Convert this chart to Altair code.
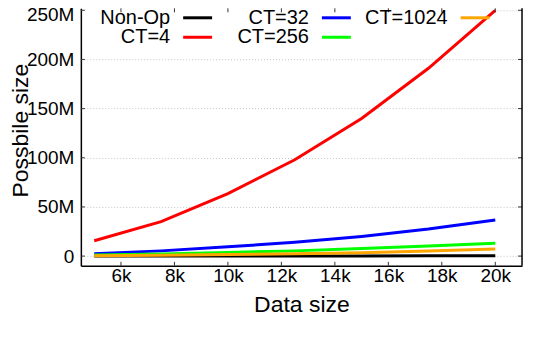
import altair as alt
import pandas as pd

# ---- data ----
data_sizes = [5000, 7500, 10000, 12500, 15000, 17500, 20000]
series_names = ["Non-Op", "CT=4", "CT=32", "CT=256", "CT=1024"]
series_colors = ["#000000", "#ff0000", "#0000ff", "#00ff00", "#ffa500"]
non_op = [0.02, 0.04, 0.07, 0.11, 0.16, 0.22, 0.3]
ct4 = [15.6, 35.0, 63.5, 98.0, 140.0, 191.0, 250.0]
ct32 = [2.5, 5.3, 9.5, 14.0, 20.0, 27.5, 36.7]
ct256 = [1.0, 2.2, 3.7, 5.3, 7.6, 10.2, 13.0]
ct1024 = [0.4, 0.9, 1.5, 2.4, 3.5, 5.1, 7.1]
series_values = [non_op, ct4, ct32, ct256, ct1024]

x_ticks = [6000, 8000, 10000, 12000, 14000, 16000, 18000, 20000]
y_ticks = [0, 50, 100, 150, 200, 250]

FONT = "Liberation Sans"
W, H = 442, 258

rows = []
for name, vals in zip(series_names, series_values):
    for s, v in zip(data_sizes, vals):
        rows.append({"size": s, "value": v, "series": name})
df = pd.DataFrame(rows)

xscale = alt.Scale(domain=[4500, 21000], zero=False, nice=False)
yscale = alt.Scale(domain=[-9.9, 252], zero=False, nice=False)

xaxis = alt.Axis(
    values=x_ticks,
    labelExpr="datum.value / 1000 + 'k'",
    labelFontSize=19, labelFont=FONT, labelColor="black",
    labelBaseline="alphabetic", labelPadding=16,
    ticks=False, tickSize=0, grid=False,
    domain=True, domainColor="black", domainWidth=1.5,
    title="Data size", titleFont=FONT, titleFontSize=23, titleFontWeight="normal",
    titleColor="black", titleY=46, titleBaseline="alphabetic",
)
yaxis = alt.Axis(
    values=y_ticks,
    labelExpr="datum.value == 0 ? '0\u00a0' : datum.value + 'M'",
    labelFontSize=19, labelFont=FONT, labelColor="black", labelPadding=7,
    labelOffset={"condition": {"test": "datum.value == 250", "value": 4}, "value": 0},
    ticks=False, tickSize=0,
    grid=True, gridColor="#c4c4c4", gridDash=[1, 2], gridWidth=1,
    domain=True, domainColor="black", domainWidth=1.5,
    title="Possbile size", titleFont=FONT, titleFontSize=23, titleFontWeight="normal",
    titleColor="black", titleAngle=270, titleX=-53, titleY=122,
    titleBaseline="alphabetic", titleAlign="center",
)

X = alt.X("size:Q", scale=xscale, axis=xaxis, title="Data size")
Y = alt.Y("value:Q", scale=yscale, axis=yaxis, title="Possbile size")

# base layer carrying axes/grid
base = alt.Chart(df).mark_line(opacity=0).encode(x=X, y=Y)

one = pd.DataFrame({"a": [0]})
legend_box = alt.Chart(one).mark_rect(color="white").encode(
    x=alt.value(2), x2=alt.value(417), y=alt.value(1), y2=alt.value(40)
)

layers = [base, legend_box]
for name, color in zip(series_names, series_colors):
    layers.append(
        alt.Chart(df).transform_filter(alt.datum.series == name)
        .mark_line(strokeWidth=3, color=color)
        .encode(x=X, y=Y)
    )

# inward ticks
xt = pd.DataFrame({"size": x_ticks})
yt = pd.DataFrame({"value": y_ticks})
tick_style = dict(color="#333333", strokeWidth=1)
layers.append(alt.Chart(xt).mark_rule(**tick_style).encode(
    x=X, y=alt.value(H - 4), y2=alt.value(H)))
layers.append(alt.Chart(xt).mark_rule(**tick_style).encode(
    x=X, y=alt.value(0), y2=alt.value(4)))
layers.append(alt.Chart(yt).mark_rule(**tick_style).encode(
    y=Y, x=alt.value(0), x2=alt.value(4)))
layers.append(alt.Chart(yt).mark_rule(**tick_style).encode(
    y=Y, x=alt.value(W - 4), x2=alt.value(W)))
# right border
layers.append(alt.Chart(one).mark_rule(color="black", strokeWidth=1.5).encode(
    x=alt.value(W), y=alt.value(0), y2=alt.value(H)))

# manual legend (gnuplot style: label then sample, column-major)
for i, (name, color) in enumerate(zip(series_names, series_colors)):
    col, row = i // 2, i % 2
    tx = 89.5 + col * 139
    ty = 9.5 + row * 19.5
    layers.append(alt.Chart(one).mark_text(
        align="right", baseline="middle", fontSize=20, font=FONT, color="black", text=name
    ).encode(x=alt.value(tx), y=alt.value(ty)))
    layers.append(alt.Chart(one).mark_rule(color=color, strokeWidth=3).encode(
        x=alt.value(tx + 13), x2=alt.value(tx + 42), y=alt.value(ty)))

chart = alt.layer(*layers).properties(
    width=W, height=H,
    autosize=alt.AutoSizeParams(type="none"),
    padding={"left": 73, "top": 0, "right": 8, "bottom": 70},
).configure_view(stroke=None)

chart.save("out.html", embed_options={"renderer": "svg", "actions": False})
